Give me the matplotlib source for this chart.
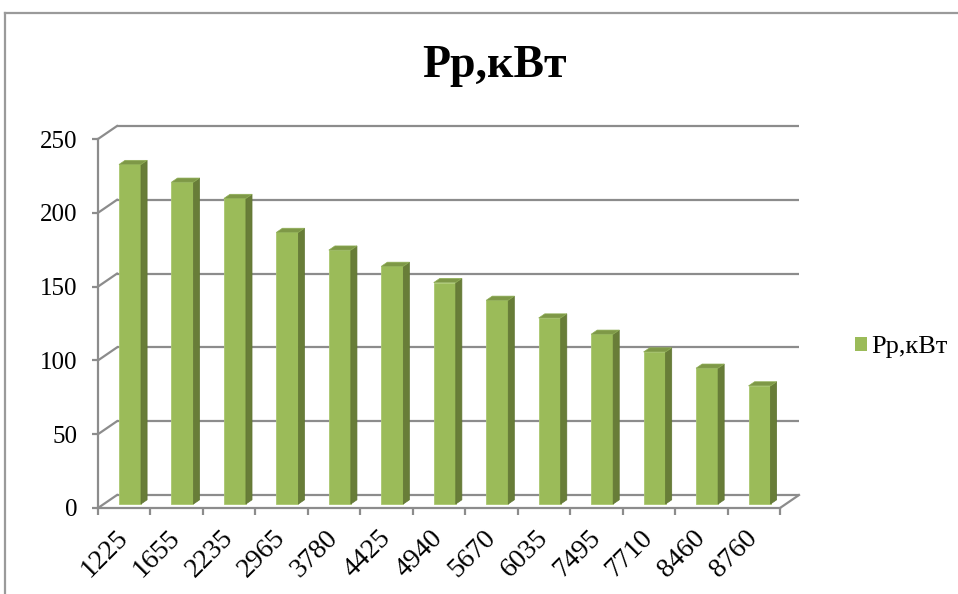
import matplotlib
matplotlib.use("Agg")
import matplotlib.pyplot as plt
from matplotlib.patches import Polygon, Patch
from matplotlib.lines import Line2D
import numpy as np

# Chart data
categories = ["1225", "1655", "2235", "2965", "3780", "4425", "4940",
              "5670", "6035", "7495", "7710", "8460", "8760"]
values = [230, 218, 207, 184, 172, 161, 150, 138, 126, 115, 103, 92, 80]
y_ticks = [0, 50, 100, 150, 200, 250]
series_name = "Рр,кВт"

FRONT = "#9bbb59"
SIDE = "#687d38"
TOP = "#7e9847"
GRID = "#8c8c8c"
SERIF = ["Liberation Serif", "DejaVu Serif"]

W, H = 958, 594
fig = plt.figure(figsize=(W / 100, H / 100), dpi=100)
fig.patch.set_facecolor("white")

# front floor plane of the pseudo-3D box (pixels -> figure fraction)
x_left, x_right = 98, 780
y_zero, y_top = 508, 139
ax = fig.add_axes([x_left / W, (H - y_zero) / H,
                   (x_right - x_left) / W, (y_zero - y_top) / H])
n = len(categories)
ax.set_xlim(0, n)
ax.set_ylim(0, 250)
ax.set_facecolor("none")

# depth offset of the back wall, in data units
px_x = (x_right - x_left) / n
px_y = (y_zero - y_top) / 250
DX = 19 / px_x
DY = 13 / px_y

# back wall gridlines and left side-wall diagonals
for v in y_ticks:
    ax.plot([DX, n + DX], [v + DY, v + DY], color=GRID, lw=1.6,
            clip_on=False, zorder=1, solid_capstyle="butt")
    ax.plot([0, DX], [v, v + DY], color=GRID, lw=1.6, clip_on=False, zorder=1)
# right edge of the floor
ax.plot([n, n + DX], [0, DY], color=GRID, lw=1.6, clip_on=False, zorder=1)

# bars: front face drawn with ax.bar, side and top faces from the same values
z0, z1 = 0.31, 0.63
bw = 0.42
idx = np.arange(n)
lefts = idx + 0.40
bottom = z0 * DY
ax.bar(lefts, values, width=bw, bottom=bottom, align="edge", color=FRONT,
       edgecolor="#aac76f", linewidth=0.6, zorder=3)
dz = z1 - z0
for x0, v in zip(lefts, values):
    x1 = x0 + bw
    top = bottom + v
    side = Polygon([(x1, bottom), (x1 + dz * DX, bottom + dz * DY),
                    (x1 + dz * DX, top + dz * DY), (x1, top)],
                   closed=True, facecolor=SIDE, edgecolor="#5f7432",
                   linewidth=0.5, zorder=3)
    cap = Polygon([(x0, top), (x1, top), (x1 + dz * DX, top + dz * DY),
                   (x0 + dz * DX, top + dz * DY)],
                  closed=True, facecolor=TOP, edgecolor="#8fae55",
                  linewidth=0.5, zorder=3, clip_on=False)
    ax.add_patch(side)
    ax.add_patch(cap)

# axes lines and ticks
for s in ["top", "right"]:
    ax.spines[s].set_visible(False)
for s in ["left", "bottom"]:
    ax.spines[s].set_color(GRID)
    ax.spines[s].set_linewidth(1.6)

ax.set_yticks(y_ticks)
ax.set_yticklabels([str(t) for t in y_ticks])
ax.tick_params(axis="y", direction="out", length=4, width=1.6, color=GRID,
               pad=11, labelsize=18, labelcolor="black")

ax.set_xticks(np.arange(n + 1))
ax.set_xticklabels([])
ax.set_xticks(idx + 0.5, minor=True)
ax.set_xticklabels(categories, minor=True)
ax.tick_params(axis="x", which="major", direction="out", length=5,
               width=1.6, color=GRID)
ax.tick_params(axis="x", which="minor", length=0, pad=19, labelsize=20,
               labelcolor="black")
for lab in ax.get_xticklabels(minor=True):
    lab.set_rotation(45)
    lab.set_ha("right")
    lab.set_va("center")
    lab.set_rotation_mode("anchor")
    lab.set_family(SERIF)
for lab in ax.get_yticklabels():
    lab.set_family(SERIF)

# title
fig.text(494 / W, 1 - 66 / H, series_name, ha="center", va="center",
         fontsize=33, fontweight="bold", family=SERIF)

# legend
leg = fig.legend(handles=[Patch(facecolor=FRONT, edgecolor="none")],
                 labels=[series_name], loc="center left",
                 bbox_to_anchor=(855 / W, 1 - 347 / H), frameon=False,
                 prop={"family": SERIF, "size": 19},
                 handlelength=0.45, handleheight=0.45, handletextpad=0.15,
                 borderpad=0, borderaxespad=0)

# outer chart frame (top and left edges)
fig.add_artist(Line2D([5 / W, 5 / W], [0, 1 - 13 / H], color="#9a9a9a",
                      lw=1.6, transform=fig.transFigure))
fig.add_artist(Line2D([5 / W, 1], [1 - 13 / H, 1 - 13 / H], color="#9a9a9a",
                      lw=1.6, transform=fig.transFigure))

fig.savefig("out.png", dpi=100, facecolor="white")
